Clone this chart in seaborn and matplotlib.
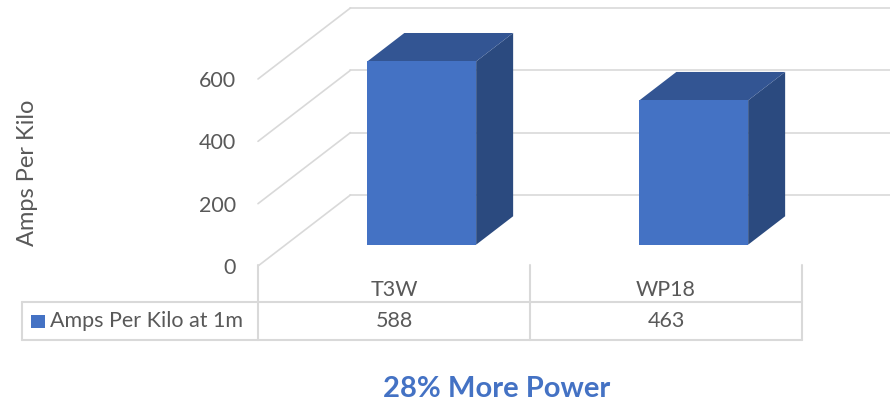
import matplotlib
matplotlib.use("Agg")
import matplotlib.pyplot as plt
import seaborn as sns
from matplotlib.patches import Polygon, Rectangle
from matplotlib.transforms import blended_transform_factory

# data
models = ["T3W", "WP18"]
amps = [588, 463]
series_name = "Amps Per Kilo at 1m"
y_ticks = [0, 200, 400, 600]
y_label = "Amps Per Kilo"
title = "28% More Power"

# colours
front_c = "#4472C4"
top_c = "#335593"
side_c = "#2B4A7F"
grid_c = "#D9D9D9"
text_c = "#595959"

sns.set_style("white")
plt.rcParams["font.family"] = ["Lato", "DejaVu Sans"]

W, H = 890, 405
fig = plt.figure(figsize=(W / 100, H / 100), dpi=100)


def fy(py):
    # pixel row (from top) -> figure fraction
    return 1 - py / H


# axes = front plane of the 3d box
ax = fig.add_axes([258 / W, fy(266), 544 / W, 187 / H])
sns.barplot(x=models, y=amps, color=front_c, saturation=1, width=0.4,
            ax=ax, linewidth=0, zorder=3)
ax.set_xlim(-0.5, 1.5)
ax.set_ylim(0, 600)

# oblique depth of the floor, in data units, and where the bars sit in it
ddx, ddy = 0.34, 228
f0, fd = 0.3, 0.4

for p in list(ax.patches):
    w, h = p.get_width(), p.get_height()
    x0 = p.get_x() + f0 * ddx
    y0 = f0 * ddy
    p.set_x(x0)
    p.set_y(y0)
    p.set_clip_on(False)
    bx, by = fd * ddx, fd * ddy
    side = Polygon([(x0 + w, y0), (x0 + w, y0 + h), (x0 + w + bx, y0 + h + by),
                    (x0 + w + bx, y0 + by)], closed=True, fc=side_c, lw=0,
                   zorder=2.9, clip_on=False)
    top = Polygon([(x0, y0 + h), (x0 + w, y0 + h), (x0 + w + bx, y0 + h + by),
                   (x0 + bx, y0 + h + by)], closed=True, fc=top_c, lw=0,
                  zorder=2.9, clip_on=False)
    ax.add_patch(side)
    ax.add_patch(top)

# gridlines: left wall diagonals + back wall
for v in y_ticks:
    ax.plot([-0.5, -0.5 + ddx], [v, v + ddy], color=grid_c, lw=1.2,
            clip_on=False, zorder=1)
    ax.plot([-0.5 + ddx, 1.5 + ddx], [v + ddy, v + ddy], color=grid_c, lw=1.2,
            clip_on=False, zorder=1)

ax.set_yticks(y_ticks)
ax.set_xticks([])
ax.tick_params(axis="y", length=0, pad=16, labelsize=15.5, labelcolor=text_c)
for s in ax.spines.values():
    s.set_visible(False)
ax.set_xlabel("")
ax.set_ylabel(y_label, fontsize=17, color=text_c)
ax.yaxis.set_label_coords(-0.405, 0.5)

# data table under the chart
trans = blended_transform_factory(ax.transData, fig.transFigure)
table_left = -0.5 - 236 / 272
for x in [-0.5, 0.5, 1.5]:
    ax.plot([x, x], [fy(265), fy(340)], color=grid_c, lw=1.5, transform=trans,
            clip_on=False)
ax.plot([table_left, table_left], [fy(302), fy(340)], color=grid_c, lw=1.5,
        transform=trans, clip_on=False)
for yy in [302, 340]:
    ax.plot([table_left, 1.5], [fy(yy), fy(yy)], color=grid_c, lw=1.5,
            transform=trans, clip_on=False)

for i, (m, v) in enumerate(zip(models, amps)):
    ax.text(i, fy(290), m, transform=trans, ha="center", va="center",
            fontsize=15.5, color=text_c)
    ax.text(i, fy(321), str(v), transform=trans, ha="center", va="center",
            fontsize=15.5, color=text_c)

fig.add_artist(Rectangle((31 / W, fy(328)), 14 / W, 13 / H,
                         transform=fig.transFigure, color=front_c, lw=0))
fig.text(50 / W, fy(321), series_name, ha="left", va="center", fontsize=15.5,
         color=text_c)

fig.text(497 / W, fy(389), title, ha="center", va="center", fontsize=21,
         fontweight="bold", color=front_c)

fig.savefig("out.png", dpi=100)
